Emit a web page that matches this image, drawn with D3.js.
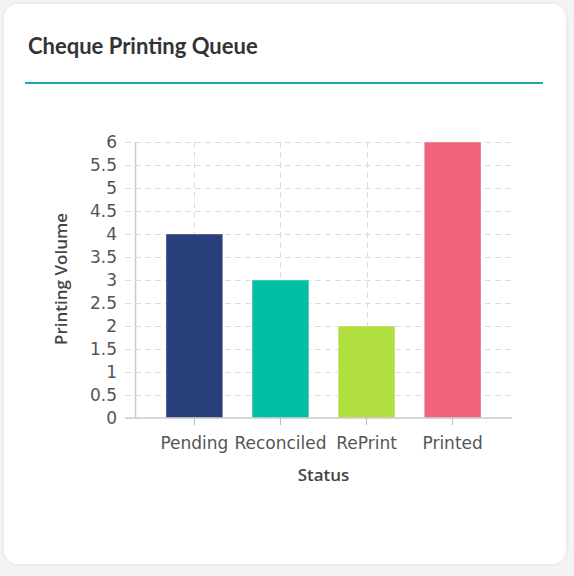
<!DOCTYPE html>
<html lang="en">
  <head>
    <meta charset="UTF-8" />
    <title>Cheque Printing Queue</title>
    <script src="https://d3js.org/d3.v7.min.js"></script>
    <style>
      body {
        margin: 0;
        background-color: #f3f3f3;
        font-family: Lato, sans-serif;
      }
      .card {
        position: absolute;
        left: 4px;
        top: 4px;
        width: 562px;
        height: 560px;
        background: #fff;
        border-radius: 14px;
        box-shadow: 0 0 4px rgba(0, 0, 0, 0.08);
      }
      .card h3 {
        margin: 0;
        position: absolute;
        left: 24px;
        top: 28px;
        font-size: 22px;
        font-weight: 700;
        color: #333;
      }
      .card .rule {
        position: absolute;
        left: 21px;
        top: 78px;
        width: 518px;
        height: 2px;
        background: #1fa8ad;
      }
      svg {
        position: absolute;
        left: 0;
        top: 0;
      }
      .tick text {
        font-family: 'DejaVu Sans', sans-serif;
        font-size: 17px;
        fill: #555;
      }
      .axis-title {
        font-family: 'Open Sans', sans-serif;
        font-size: 17px;
        font-weight: 600;
        fill: #444;
      }
    </style>
  </head>
  <body>
    <div class="card">
      <h3>Cheque Printing Queue</h3>
      <div class="rule"></div>
    </div>
    <svg width="574" height="576"></svg>

    <script>
      const categories = ['Pending', 'Reconciled', 'RePrint', 'Printed'];
      const volumes = [4, 3, 2, 6];
      const colors = ['#283f7b', '#00bfa5', '#b0df3f', '#f0647b'];
      const yTicks = [0, 0.5, 1, 1.5, 2, 2.5, 3, 3.5, 4, 4.5, 5, 5.5, 6];

      const svg = d3.select('svg');
      const plotLeft = 135,
        plotRight = 512,
        plotTop = 142,
        plotBottom = 418;

      const x = d3
        .scaleBand()
        .domain(categories)
        .range([plotLeft, plotRight])
        .paddingInner(0.34)
        .paddingOuter(0.36);

      const y = d3
        .scaleLinear()
        .domain([0, 6])
        .range([plotBottom, plotTop]);

      // horizontal grid
      svg
        .append('g')
        .selectAll('line')
        .data(yTicks)
        .join('line')
        .attr('x1', plotLeft - 10)
        .attr('x2', plotRight)
        .attr('y1', (d) => Math.round(y(d)) + 0.5)
        .attr('y2', (d) => Math.round(y(d)) + 0.5)
        .attr('stroke', '#ddd')
        .attr('stroke-dasharray', '6,4');

      // vertical grid
      svg
        .append('g')
        .selectAll('line')
        .data(categories)
        .join('line')
        .attr('x1', (d) => Math.round(x(d) + x.bandwidth() / 2) + 0.5)
        .attr('x2', (d) => Math.round(x(d) + x.bandwidth() / 2) + 0.5)
        .attr('y1', plotTop)
        .attr('y2', plotBottom)
        .attr('stroke', '#ddd')
        .attr('stroke-dasharray', '6,4');

      // bars
      svg
        .append('g')
        .selectAll('rect')
        .data(volumes)
        .join('rect')
        .attr('x', (d, i) => x(categories[i]))
        .attr('y', (d) => y(d))
        .attr('width', x.bandwidth())
        .attr('height', (d) => plotBottom - y(d))
        .attr('fill', (d, i) => colors[i])
        .attr('stroke', 'rgba(255,255,255,0.4)')
        .attr('stroke-width', 1);

      // y axis
      const yAxis = svg
        .append('g')
        .attr('transform', `translate(${plotLeft},0)`)
        .call(
          d3
            .axisLeft(y)
            .tickValues(yTicks)
            .tickSize(10)
            .tickPadding(8)
            .tickSizeOuter(0)
            .tickFormat((d) => d),
        );
      yAxis.select('.domain').attr('stroke', '#ccc').attr('stroke-width', 1.5);
      yAxis.selectAll('.tick line').attr('stroke', 'none');

      // x axis
      const xAxis = svg
        .append('g')
        .attr('transform', `translate(0,${plotBottom})`)
        .call(d3.axisBottom(x).tickSize(7).tickPadding(12).tickSizeOuter(0));
      xAxis
        .select('.domain')
        .attr('d', `M${plotLeft - 10},0H${plotRight}`)
        .attr('stroke', '#ccc')
        .attr('stroke-width', 1.5);
      xAxis.selectAll('.tick line').attr('stroke', '#bbb');

      // axis titles
      svg
        .append('text')
        .attr('class', 'axis-title')
        .attr('x', (plotLeft + plotRight) / 2)
        .attr('y', 481)
        .attr('text-anchor', 'middle')
        .text('Status');

      svg
        .append('text')
        .attr('class', 'axis-title')
        .attr('transform', 'translate(67,279) rotate(-90)')
        .attr('text-anchor', 'middle')
        .text('Printing Volume');
    </script>
  </body>
</html>
